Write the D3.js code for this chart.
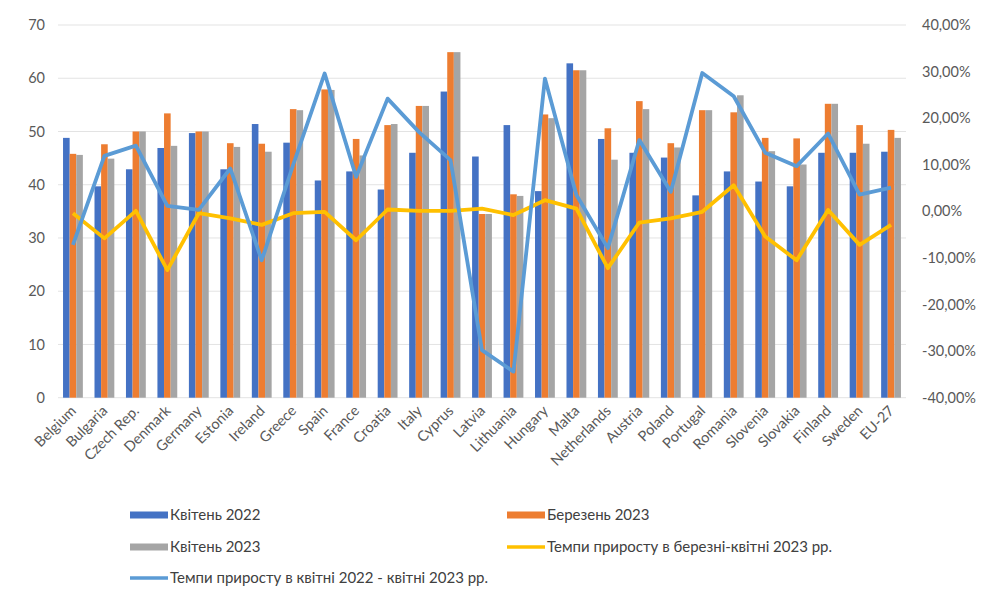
<!DOCTYPE html>
<html>
<head>
<meta charset="utf-8">
<script src="https://cdn.jsdelivr.net/npm/d3@7"></script>
<style>
  body { margin: 0; background: #fff; }
  svg { font-family: Lato, "Open Sans", sans-serif; }
</style>
</head>
<body>
<svg id="chart" width="987" height="596"></svg>
<script>
const countries = ["Belgium", "Bulgaria", "Czech Rep.", "Denmark", "Germany", "Estonia", "Ireland", "Greece", "Spain", "France", "Croatia", "Italy", "Cyprus", "Latvia", "Lithuania", "Hungary", "Malta", "Netherlands", "Austria", "Poland", "Portugal", "Romania", "Slovenia", "Slovakia", "Finland", "Sweden", "EU-27"]

const apr2022 = [48.8, 39.7, 42.9, 46.9, 49.7, 42.9, 51.4, 47.9, 40.8, 42.5, 39.1, 46.0, 57.5, 45.3, 51.2, 38.8, 62.8, 48.6, 46.0, 45.1, 38.0, 42.5, 40.6, 39.7, 46.0, 46.0, 46.2]
const mar2023 = [45.8, 47.6, 50.0, 53.4, 50.0, 47.8, 47.7, 54.2, 57.9, 48.6, 51.2, 54.8, 64.9, 34.5, 38.2, 53.2, 61.5, 50.6, 55.7, 47.8, 54.0, 53.6, 48.8, 48.7, 55.2, 51.2, 50.3]
const apr2023 = [45.6, 44.9, 50.0, 47.3, 50.0, 47.1, 46.2, 54.0, 57.8, 45.5, 51.4, 54.8, 64.9, 34.5, 37.9, 52.5, 61.5, 44.7, 54.2, 47.0, 54.0, 56.8, 46.3, 43.8, 55.2, 47.7, 48.8]

// темпи приросту, %
const growthMarApr = [-0.4, -5.8, 0.1, -12.6, -0.4, -1.5, -2.9, -0.4, -0.1, -6.2, 0.4, 0.1, 0.1, 0.6, -0.8, 2.4, 0.6, -12.2, -2.4, -1.5, -0.1, 5.6, -5.4, -10.5, 0.3, -7.2, -2.9]
const growthAprApr = [-7.2, 11.9, 14.1, 1.2, 0.3, 9.2, -10.5, 10.0, 29.6, 7.4, 24.2, 17.0, 11.0, -29.8, -34.4, 28.5, 3.5, -7.9, 15.3, 4.2, 29.7, 24.7, 12.6, 9.7, 16.7, 3.6, 5.1]

const leftTicks = [0, 10, 20, 30, 40, 50, 60, 70]
const rightTicks = [-40, -30, -20, -10, 0, 10, 20, 30, 40]

const barSeries = [
  { name: "Квітень 2022", values: apr2022, color: "#4472C4" },
  { name: "Березень 2023", values: mar2023, color: "#ED7D31" },
  { name: "Квітень 2023", values: apr2023, color: "#A5A5A5" }
]
const lineSeries = [
  { name: "Темпи приросту в березні-квітні 2023 рр.", values: growthMarApr, color: "#FFC000" },
  { name: "Темпи приросту в квітні 2022 - квітні 2023 рр.", values: growthAprApr, color: "#5B9BD5" }
]

const svg = d3.select('#chart')
const plotLeft = 58, plotRight = 906, plotTop = 25, plotBottom = 397.7

const x = d3.scaleBand().domain(countries).range([plotLeft, plotRight]).paddingInner(0.37).paddingOuter(0.16)
const xs = d3.scaleBand().domain(barSeries.map(d => d.name)).range([0, x.bandwidth()])
const y = d3.scaleLinear().domain([0, 70]).range([plotBottom, plotTop])
const y2 = d3.scaleLinear().domain([-40, 40]).range([plotBottom, plotTop])

// сітка
svg.append('g')
  .selectAll('line')
  .data(leftTicks)
  .enter()
  .append('line')
  .attr('x1', plotLeft).attr('x2', plotRight)
  .attr('y1', d => y(d)).attr('y2', d => y(d))
  .attr('stroke', '#e3e3e3')
  .attr('stroke-width', 1)

// стовпці
barSeries.forEach(s => {
  svg.append('g')
    .selectAll('rect')
    .data(countries)
    .enter()
    .append('rect')
    .attr('x', d => x(d) + xs(s.name))
    .attr('width', xs.bandwidth())
    .attr('y', (d, i) => y(s.values[i]))
    .attr('height', (d, i) => y(0) - y(s.values[i]))
    .attr('fill', s.color)
})

// лінії
const lineGen = d3.line()
  .x((d, i) => x(countries[i]) + x.bandwidth() / 2)
  .y(d => y2(d))

lineSeries.forEach(s => {
  svg.append('path')
    .attr('d', lineGen(s.values))
    .attr('fill', 'none')
    .attr('stroke', s.color)
    .attr('stroke-width', 3.8)
    .attr('stroke-linejoin', 'round')
})

// осі
const axisLeft = d3.axisLeft(y).tickValues(leftTicks).tickSize(0).tickPadding(13)
svg.append('g')
  .attr('transform', `translate(${plotLeft},0)`)
  .call(axisLeft)
  .call(g => g.select('.domain').remove())
  .selectAll('text')
  .attr('font-size', 14.5).attr('fill', '#595959').attr('font-family', 'Lato, sans-serif')

const axisRight = d3.axisRight(y2).tickValues(rightTicks).tickSize(0).tickPadding(16)
  .tickFormat(d => d3.format('.2f')(d).replace('.', ',').replace('−', '-') + '%')
svg.append('g')
  .attr('transform', `translate(${plotRight},0)`)
  .call(axisRight)
  .call(g => g.select('.domain').remove())
  .selectAll('text')
  .attr('font-size', 14.5).attr('fill', '#595959').attr('font-family', 'Lato, sans-serif')

svg.append('g')
  .selectAll('text')
  .data(countries)
  .enter()
  .append('text')
  .attr('transform', d => `translate(${x(d) + x.bandwidth() / 2 + 4},${plotBottom + 14}) rotate(-45)`)
  .attr('text-anchor', 'end')
  .attr('font-size', 14.5)
  .attr('fill', '#595959')
  .text(d => d)

// легенда
const legendItems = [
  { s: barSeries[0], lx: 130, ly: 515, type: 'bar' },
  { s: barSeries[1], lx: 507, ly: 515, type: 'bar' },
  { s: barSeries[2], lx: 130, ly: 547, type: 'bar' },
  { s: lineSeries[0], lx: 507, ly: 547, type: 'line' },
  { s: lineSeries[1], lx: 130, ly: 578, type: 'line' }
]
const legend = svg.append('g')
legendItems.forEach(it => {
  if (it.type === 'bar') {
    legend.append('rect')
      .attr('x', it.lx).attr('y', it.ly - 3.5)
      .attr('width', 38).attr('height', 7)
      .attr('fill', it.s.color)
  } else {
    legend.append('line')
      .attr('x1', it.lx).attr('x2', it.lx + 38)
      .attr('y1', it.ly).attr('y2', it.ly)
      .attr('stroke', it.s.color).attr('stroke-width', 3.5)
  }
  legend.append('text')
    .attr('x', it.lx + 40).attr('y', it.ly)
    .attr('dy', '0.35em')
    .attr('font-size', 15)
    .attr('fill', '#404040')
    .text(it.s.name)
})
</script>
</body>
</html>
